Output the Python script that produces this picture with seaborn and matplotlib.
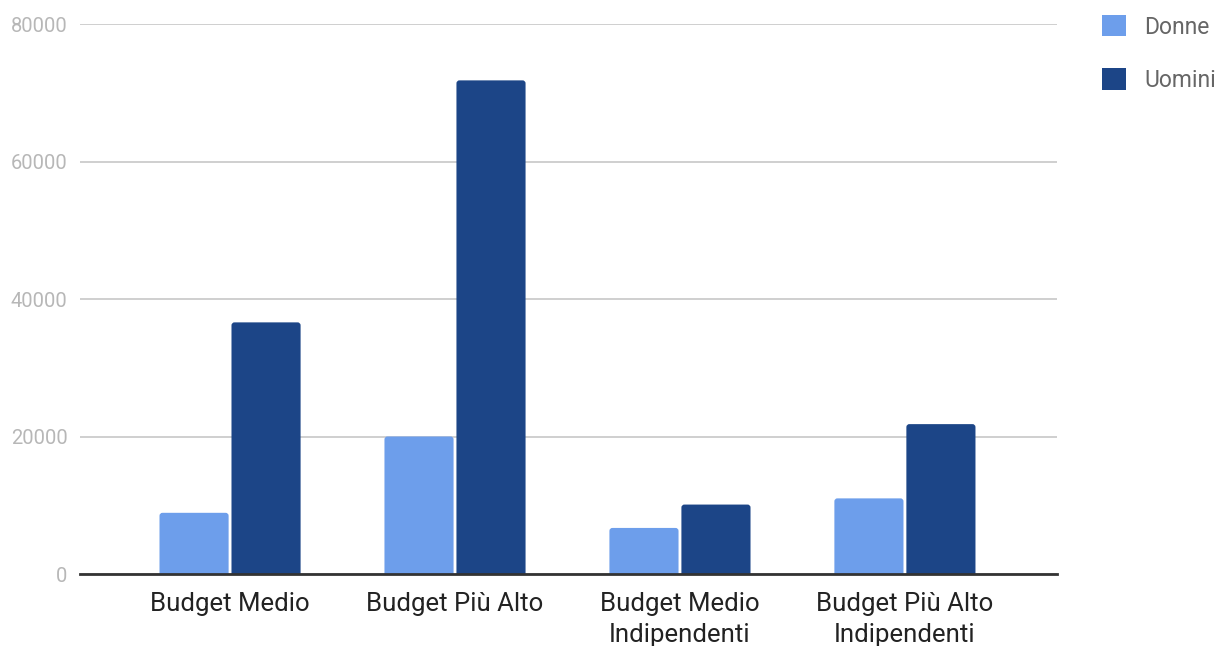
import matplotlib
matplotlib.use("Agg")
import matplotlib.pyplot as plt
import matplotlib.patches as mpatches
import pandas as pd
import seaborn as sns

categories = ["Budget Medio", "Budget Più Alto", "Budget Medio\nIndipendenti", "Budget Più Alto\nIndipendenti"]
series_names = ["Donne", "Uomini"]
donne = [8900, 20000, 6700, 11000]
uomini = [36600, 71800, 10100, 21800]
y_ticks = [0, 20000, 40000, 60000, 80000]
colors = ["#6d9eeb", "#1c4587"]

df = pd.DataFrame({
    "categoria": categories * 2,
    "serie": [series_names[0]] * len(categories) + [series_names[1]] * len(categories),
    "valore": donne + uomini,
})

sns.set_theme(style="white")
plt.rcParams["font.family"] = ["Roboto", "DejaVu Sans"]

W, H = 1218, 646
fig = plt.figure(figsize=(W / 100, H / 100), dpi=100)
ax_px = (80, 24, 1057, 574)  # left, top, right, bottom in pixels
ax = fig.add_axes([ax_px[0] / W, 1 - ax_px[3] / H, (ax_px[2] - ax_px[0]) / W, (ax_px[3] - ax_px[1]) / H])

sns.barplot(data=df, x="categoria", y="valore", hue="serie", order=categories,
            hue_order=series_names, palette=colors, width=0.64, gap=0.04,
            saturation=1, ax=ax, legend=False, linewidth=0)

xlim = (-0.667, 3.676)
ylim = (0, 80000)
ax.set_ylim(*ylim)
ax.set_xlim(*xlim)

# Swap the plain rectangles for ones with softly rounded corners
x_per_px = (xlim[1] - xlim[0]) / (ax_px[2] - ax_px[0])
y_per_px = (ylim[1] - ylim[0]) / (ax_px[3] - ax_px[1])
r_px = 3
for bar in list(ax.patches):
    x, w, h = bar.get_x(), bar.get_width(), bar.get_height()
    fc = bar.get_facecolor()
    bar.remove()
    y0 = -r_px * y_per_px
    rounded = mpatches.FancyBboxPatch(
        (x, y0), w, h - y0,
        boxstyle=mpatches.BoxStyle("Round", pad=0, rounding_size=r_px * x_per_px),
        mutation_aspect=y_per_px / x_per_px,
        facecolor=fc, edgecolor="none", zorder=2)
    ax.add_patch(rounded)

ax.set_yticks(y_ticks)
ax.set_yticklabels([str(t) for t in y_ticks])
ax.grid(axis="y", color="#cccccc", linewidth=1.3)
ax.set_axisbelow(True)
for s in ["top", "right", "left"]:
    ax.spines[s].set_visible(False)
ax.spines["bottom"].set_color("#333333")
ax.spines["bottom"].set_linewidth(2)
ax.spines["bottom"].set_zorder(5)
ax.set_xlabel("")
ax.set_ylabel("")
ax.tick_params(axis="y", length=0, pad=9, labelsize=14.5, labelcolor="#b7b7b7")
ax.tick_params(axis="x", length=0, pad=13, labelsize=18.5, labelcolor="#222222")
for lbl in ax.get_xticklabels():
    lbl.set_linespacing(1.38)

handles = [mpatches.Patch(facecolor=c, edgecolor="none", label=n) for c, n in zip(colors, series_names)]
leg = fig.legend(handles=handles, loc="upper left", bbox_to_anchor=(1093 / W, 1 - 6 / H),
                 frameon=False, fontsize=16.5, handlelength=1.05, handleheight=1.05,
                 handletextpad=0.8, labelspacing=1.3, borderaxespad=0)
for t in leg.get_texts():
    t.set_color("#666666")

fig.savefig("out.png", dpi=100)
